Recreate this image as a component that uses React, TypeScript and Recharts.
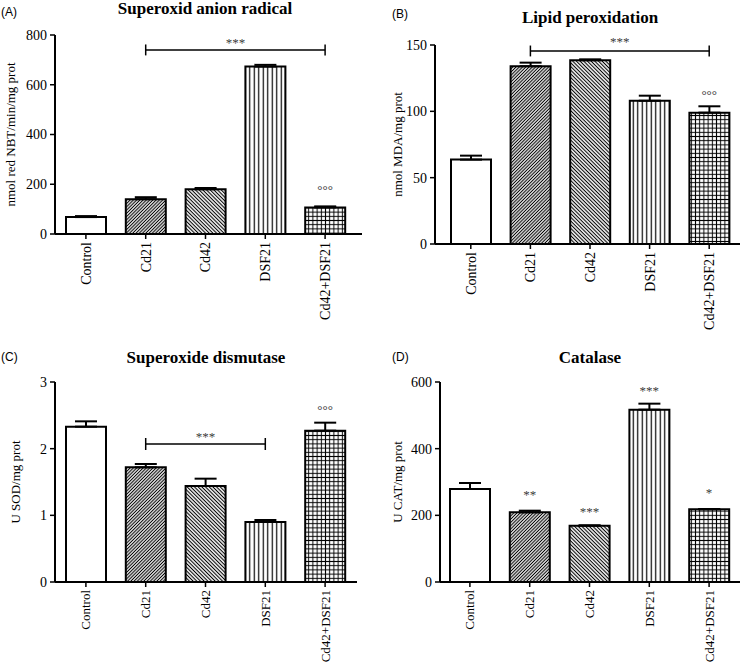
import React from 'react';
import { BarChart, Bar, XAxis, YAxis, Cell, ErrorBar, ReferenceLine, ReferenceDot } from 'recharts';

const categories = ['Control', 'Cd21', 'Cd42', 'DSF21', 'Cd42+DSF21'];

const superoxideMean = [68, 140, 180, 673, 107];
const superoxideErr = [4, 8, 5, 7, 4];
const superoxideTicks = [0, 200, 400, 600, 800];

const lipidMean = [63.6, 134, 138.5, 108, 99];
const lipidErr = [3, 2.7, 0.7, 3.8, 4.8];
const lipidTicks = [0, 50, 100, 150];

const sodMean = [2.33, 1.72, 1.44, 0.9, 2.27];
const sodErr = [0.08, 0.05, 0.11, 0.03, 0.12];
const sodTicks = [0, 1, 2, 3];

const catMean = [279, 209, 169, 517, 218];
const catErr = [18, 5, 1, 18, 1];
const catTicks = [0, 200, 400, 600];

const fills = ['#ffffff', 'url(#hatchR)', 'url(#hatchL)', 'url(#vertLines)', 'url(#gridLines)'];

const SERIF = '"Liberation Serif", "Times New Roman", serif';
const SANS = '"Liberation Sans", Arial, sans-serif';
const STAR = '#3a3a3a';

const build = (means: number[], errs: number[]) =>
  categories.map((c, i) => ({ name: c, value: means[i], err: [0, errs[i]] }));

const CatTick = (props: any) => {
  const { x, y, payload, fs } = props;
  return (
    <g transform={`translate(${x},${y})`}>
      <text transform="rotate(-90)" x={-1} y={0} dy="0.35em" textAnchor="end" fontSize={fs} fontFamily={SERIF} fill="#000">
        {payload.value}
      </text>
    </g>
  );
};

type PanelProps = {
  left: number; top: number; w: number; h: number;
  yWidth: number; mTop: number; mRight: number; xHeight: number;
  pad: { left: number; right: number };
  labelOffset: number; yLabel: string; catFont: number;
  data: any[]; domain: [number, number]; ticks: number[];
  children?: React.ReactNode;
};

const Panel = (p: PanelProps) => (
  <div style={{ position: 'absolute', left: p.left, top: p.top, width: p.w, height: p.h }}>
    <BarChart width={p.w} height={p.h} data={p.data} margin={{ top: p.mTop, right: p.mRight, bottom: 0, left: 0 }}>
      <XAxis
        dataKey="name"
        type="category"
        height={p.xHeight}
        padding={p.pad}
        axisLine={{ stroke: '#000', strokeWidth: 2 }}
        tickLine={{ stroke: '#000', strokeWidth: 1.5 }}
        tickSize={5}
        tickMargin={2}
        tick={<CatTick fs={p.catFont} />}
        interval={0}
      />
      <YAxis
        type="number"
        width={p.yWidth}
        domain={p.domain}
        ticks={p.ticks}
        interval={0}
        axisLine={{ stroke: '#000', strokeWidth: 2 }}
        tickLine={{ stroke: '#000', strokeWidth: 1.5 }}
        tickSize={5}
        tickMargin={3}
        tick={{ fill: '#000', fontSize: 14, fontFamily: SERIF }}
        label={{
          value: p.yLabel,
          angle: -90,
          position: 'insideLeft',
          offset: p.labelOffset,
          style: { textAnchor: 'middle', fontSize: 13, fontFamily: SERIF, fill: '#000' },
        }}
      />
      <Bar dataKey="value" barSize={40} stroke="#000" strokeWidth={2} isAnimationActive={false}>
        {p.data.map((d, i) => (
          <Cell key={d.name} fill={fills[i]} />
        ))}
        <ErrorBar dataKey="err" width={11} stroke="#000" strokeWidth={2} direction="y" isAnimationActive={false} />
      </Bar>
      {p.children}
    </BarChart>
  </div>
);

const bracket = (from: string, to: string, y: number, half: number, offset: number) => [
  <ReferenceLine
    key="h"
    segment={[{ x: from, y }, { x: to, y }]}
    stroke="#000"
    strokeWidth={1.5}
    ifOverflow="visible"
    label={{ value: '***', position: 'top', offset, fill: STAR, fontSize: 13, fontFamily: SERIF }}
  />,
  <ReferenceLine key="l" segment={[{ x: from, y: y - half }, { x: from, y: y + half }]} stroke="#000" strokeWidth={1.5} ifOverflow="visible" />,
  <ReferenceLine key="r" segment={[{ x: to, y: y - half }, { x: to, y: y + half }]} stroke="#000" strokeWidth={1.5} ifOverflow="visible" />,
];

const mark = (key: string, x: string, y: number, text: string) => (
  <ReferenceDot
    key={key}
    x={x}
    y={y}
    r={0}
    stroke="none"
    fill="none"
    ifOverflow="visible"
    label={{ value: text, position: 'center', fill: STAR, fontSize: 13, fontFamily: SERIF }}
  />
);

export default function App() {
  return (
    <div style={{ position: 'absolute', left: 0, top: 0, width: 740, height: 662, background: '#fff', overflow: 'hidden' }}>
      <svg width={0} height={0} style={{ position: 'absolute' }}>
        <defs>
          <pattern id="hatchR" patternUnits="userSpaceOnUse" width={2.3} height={2.3} patternTransform="rotate(45)">
            <rect width={2.3} height={2.3} fill="#fff" />
            <line x1={1.15} y1={0} x2={1.15} y2={2.3} stroke="#000" strokeWidth={1.1} />
          </pattern>
          <pattern id="hatchL" patternUnits="userSpaceOnUse" width={2.6} height={2.6} patternTransform="rotate(-45)">
            <rect width={2.6} height={2.6} fill="#fff" />
            <line x1={1.3} y1={0} x2={1.3} y2={2.6} stroke="#000" strokeWidth={1.1} />
          </pattern>
          <pattern id="vertLines" patternUnits="userSpaceOnUse" width={4.5} height={4.5}>
            <rect width={4.5} height={4.5} fill="#fff" />
            <line x1={2.25} y1={0} x2={2.25} y2={4.5} stroke="#000" strokeWidth={1.2} />
          </pattern>
          <pattern id="gridLines" patternUnits="userSpaceOnUse" width={4.2} height={4.2}>
            <rect width={4.2} height={4.2} fill="#fff" />
            <line x1={2.1} y1={0} x2={2.1} y2={4.2} stroke="#000" strokeWidth={1} />
            <line x1={0} y1={2.1} x2={4.2} y2={2.1} stroke="#000" strokeWidth={1} />
          </pattern>
        </defs>
      </svg>

      <Panel left={0} top={0} w={370} h={340} yWidth={55} mTop={35} mRight={8} xHeight={106}
        pad={{ left: 1, right: 7 }} labelOffset={10} yLabel="nmol red NBT/min/mg prot" catFont={14}
        data={build(superoxideMean, superoxideErr)} domain={[0, 800]} ticks={superoxideTicks}>
        {bracket('Cd21', 'Cd42+DSF21', 740, 22, 3)}
        {mark('oA', 'Cd42+DSF21', 180, '°°°')}
      </Panel>

      <Panel left={370} top={0} w={370} h={340} yWidth={65} mTop={45} mRight={0} xHeight={96}
        pad={{ left: 6, right: 1 }} labelOffset={27} yLabel="nmol MDA/mg prot" catFont={14}
        data={build(lipidMean, lipidErr)} domain={[0, 150]} ticks={lipidTicks}>
        {bracket('Cd21', 'Cd42+DSF21', 145.5, 4.1, 5)}
        {mark('oB', 'Cd42+DSF21', 112.5, '°°°')}
      </Panel>

      <Panel left={0} top={320} w={370} h={342} yWidth={55} mTop={62} mRight={13} xHeight={80}
        pad={{ left: 1, right: 2 }} labelOffset={15} yLabel="U SOD/mg prot" catFont={13}
        data={build(sodMean, sodErr)} domain={[0, 3]} ticks={sodTicks}>
        {bracket('Cd21', 'DSF21', 2.07, 0.09, 3)}
        {mark('oC', 'Cd42+DSF21', 2.59, '°°°')}
      </Panel>

      <Panel left={370} top={320} w={370} h={342} yWidth={70} mTop={62} mRight={0} xHeight={80}
        pad={{ left: 0, right: 1 }} labelOffset={27} yLabel="U CAT/mg prot" catFont={13}
        data={build(catMean, catErr)} domain={[0, 600]} ticks={catTicks}>
        {mark('s1', 'Cd21', 262, '**')}
        {mark('s2', 'Cd42', 211, '***')}
        {mark('s3', 'DSF21', 574, '***')}
        {mark('s4', 'Cd42+DSF21', 268, '*')}
      </Panel>

      <svg width={740} height={662} style={{ position: 'absolute', left: 0, top: 0, pointerEvents: 'none' }}>
        <text x={1} y={16} fontSize={12} fontFamily={SANS} fill="#000">(A)</text>
        <text x={205} y={14} fontSize={17} fontWeight="bold" fontFamily={SERIF} textAnchor="middle" fill="#000">Superoxid anion radical</text>
        <text x={392} y={18} fontSize={12} fontFamily={SANS} fill="#000">(B)</text>
        <text x={590} y={22.5} fontSize={17} fontWeight="bold" fontFamily={SERIF} textAnchor="middle" fill="#000">Lipid peroxidation</text>
        <text x={1} y={361} fontSize={12} fontFamily={SANS} fill="#000">(C)</text>
        <text x={206} y={362.5} fontSize={17} fontWeight="bold" fontFamily={SERIF} textAnchor="middle" fill="#000">Superoxide dismutase</text>
        <text x={392} y={361} fontSize={12} fontFamily={SANS} fill="#000">(D)</text>
        <text x={590} y={362.5} fontSize={17} fontWeight="bold" fontFamily={SERIF} textAnchor="middle" fill="#000">Catalase</text>
      </svg>
    </div>
  );
}
